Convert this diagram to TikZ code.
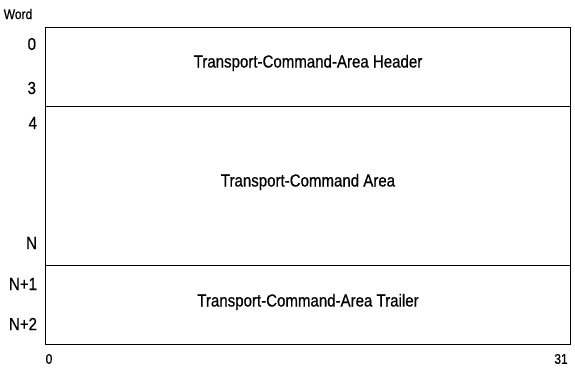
\documentclass[tikz,border=0pt]{standalone}
\usepackage{fontspec}
\setmainfont{Liberation Sans}[FakeStretch=0.86,FakeBold=0.6]
\newcommand{\lbltext}{\fontsize{17.5}{20}\selectfont}
\newcommand{\axtext}{\fontsize{14}{16}\selectfont}
\begin{document}
\begin{tikzpicture}[x={(1pt,0pt)},y={(0pt,-1pt)},every node/.style={inner sep=0pt, outer sep=0pt}]
\useasboundingbox (0,0) rectangle (575,367);
\node (word) at (18,14) {\axtext Word};
\node[anchor=east] (w0) at (36,44) {\lbltext 0};
\node[anchor=east] (w3) at (36,88) {\lbltext 3};
\node[anchor=east] (w4) at (37,123) {\lbltext 4};
\node[anchor=east] (wN) at (37,243) {\lbltext N};
\node[anchor=east] (wN1) at (37,284) {\lbltext N+1};
\node[anchor=east] (wN2) at (37,324) {\lbltext N+2};
\node (b0) at (49,359) {\axtext 0};
\node (b31) at (561,359) {\axtext 31};
\node (header) at (308,63) {\lbltext Transport-Command-Area Header};
\node (area) at (308,182) {\lbltext Transport-Command Area};
\node (trailer) at (308,302) {\lbltext Transport-Command-Area Trailer};
\draw[color=black,thick] (45,27) rectangle (570,344);
\draw[color=black,semithick] (45,106) -- (570,106);
\draw[color=black,semithick] (45,265) -- (570,265);
\end{tikzpicture}
\end{document}
